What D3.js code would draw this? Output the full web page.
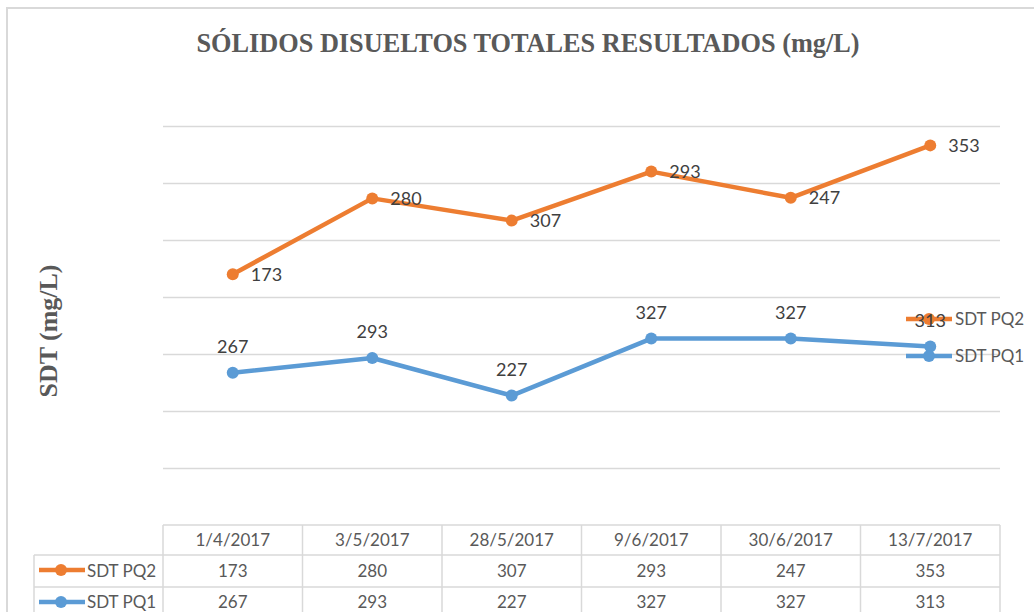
<!DOCTYPE html>
<html>
<head>
<meta charset="utf-8">
<script src="https://cdn.jsdelivr.net/npm/d3@7"></script>
<style>
  body { margin: 0; background: #fff; }
  svg { display: block; }
</style>
</head>
<body>
<div id="chart"></div>
<script>
// data
var fechas = ["1/4/2017", "3/5/2017", "28/5/2017", "9/6/2017", "30/6/2017", "13/7/2017"];
var sdtPQ1 = [267, 293, 227, 327, 327, 313];
var sdtPQ2 = [173, 280, 307, 293, 247, 353];
var yTicks = [0, 100, 200, 300, 400, 500, 600, 700];

var width = 1034, height = 612;
var orange = "#ED7D31", blue = "#5B9BD5", grid = "#d9d9d9";

var svg = d3.select("#chart").append("svg")
  .attr("width", width)
  .attr("height", height);

// chart frame
svg.append("path")
  .attr("d", "M7,612 V8 H1034")
  .attr("fill", "none")
  .attr("stroke", grid)
  .attr("stroke-width", 2);

// title
svg.append("text")
  .attr("x", 528).attr("y", 52)
  .attr("text-anchor", "middle")
  .attr("textLength", 663)
  .attr("lengthAdjust", "spacingAndGlyphs")
  .style("font-family", "'Liberation Serif', 'Times New Roman', serif")
  .style("font-weight", "bold")
  .style("font-size", "27px")
  .style("fill", "#595959")
  .text("SÓLIDOS DISUELTOS TOTALES RESULTADOS (mg/L)");

// y axis title
svg.append("text")
  .attr("transform", "translate(57,331) rotate(-90)")
  .attr("text-anchor", "middle")
  .attr("textLength", 133)
  .attr("lengthAdjust", "spacingAndGlyphs")
  .style("font-family", "'Liberation Serif', 'Times New Roman', serif")
  .style("font-weight", "bold")
  .style("font-size", "25px")
  .style("fill", "#595959")
  .text("SDT (mg/L)");

var x = d3.scaleBand().domain(fechas).range([163, 1000]);
var y = d3.scaleLinear().domain([0, 700]).range([525, 126]);

// gridlines (no tick labels, like the original)
svg.append("g")
  .attr("transform", "translate(163,0)")
  .call(d3.axisLeft(y).tickValues(yTicks.slice(1)).tickSize(-837).tickFormat(""))
  .call(function(g) {
    g.select(".domain").remove();
    g.selectAll(".tick line").attr("stroke", grid).attr("stroke-width", 1.5);
  });

// stacked lines: PQ1 at the bottom, PQ2 stacked on top
var rows = fechas.map(function(f, i) { return { fecha: f, PQ1: sdtPQ1[i], PQ2: sdtPQ2[i] }; });
var stack = d3.stack().keys(["PQ1", "PQ2"]);
var series = stack(rows);
var colors = { PQ1: blue, PQ2: orange };

var line = d3.line()
  .x(function(d) { return x(d.data.fecha) + x.bandwidth() / 2; })
  .y(function(d) { return y(d[1]); });

series.forEach(function(s) {
  var g = svg.append("g");
  g.append("path")
    .datum(s)
    .attr("d", line)
    .attr("fill", "none")
    .attr("stroke", colors[s.key])
    .attr("stroke-width", 4.5)
    .attr("stroke-linejoin", "round");
  g.selectAll("circle")
    .data(s)
    .enter().append("circle")
    .attr("cx", function(d) { return x(d.data.fecha) + x.bandwidth() / 2; })
    .attr("cy", function(d) { return y(d[1]); })
    .attr("r", 6)
    .attr("fill", colors[s.key]);
});

var labelFont = "Lato, 'Open Sans', sans-serif";

// legend (drawn before PQ1 labels so "313" overlaps as in the original)
var legendItems = [{ key: "PQ2", name: "SDT PQ2", y: 319 }, { key: "PQ1", name: "SDT PQ1", y: 356 }];
var legend = svg.selectAll(".legend")
  .data(legendItems)
  .enter().append("g")
  .attr("class", "legend")
  .attr("transform", function(d) { return "translate(906," + d.y + ")"; });
legend.append("line")
  .attr("x1", 0).attr("x2", 46)
  .attr("stroke", function(d) { return colors[d.key]; })
  .attr("stroke-width", 4.5);
legend.append("circle")
  .attr("cx", 23).attr("r", 6)
  .attr("fill", function(d) { return colors[d.key]; });
legend.append("text")
  .attr("x", 49).attr("dy", "0.35em")
  .style("font-family", labelFont)
  .style("font-size", "17px")
  .style("fill", "#595959")
  .text(function(d) { return d.name; });

// data labels
// PQ2 labels: right of the point
svg.append("g").selectAll("text")
  .data(series[1])
  .enter().append("text")
  .attr("x", function(d) { return x(d.data.fecha) + x.bandwidth() / 2 + 18; })
  .attr("y", function(d) { return y(d[1]); })
  .attr("dy", "0.36em")
  .style("font-family", labelFont)
  .style("font-size", "18px")
  .style("fill", "#404040")
  .text(function(d) { return d.data.PQ2; });

// PQ1 labels: above the point
svg.append("g").selectAll("text")
  .data(series[0])
  .enter().append("text")
  .attr("x", function(d) { return x(d.data.fecha) + x.bandwidth() / 2; })
  .attr("y", function(d) { return y(d[1]) - 20; })
  .attr("text-anchor", "middle")
  .style("font-family", labelFont)
  .style("font-size", "18px")
  .style("fill", "#404040")
  .text(function(d) { return d.data.PQ1; });

// data table
var rowTop = [525, 555, 587, 619];
var tbl = svg.append("g").attr("class", "table");
var cols = [163].concat(fechas.map(function(f) { return x(f) + x.bandwidth(); }));

// horizontal lines
tbl.append("line").attr("x1", 163).attr("x2", 1000).attr("y1", rowTop[0]).attr("y2", rowTop[0]);
[1, 2, 3].forEach(function(r) {
  tbl.append("line").attr("x1", 34).attr("x2", 1000).attr("y1", rowTop[r]).attr("y2", rowTop[r]);
});
// vertical lines
cols.forEach(function(cx) {
  tbl.append("line").attr("x1", cx).attr("x2", cx).attr("y1", rowTop[0]).attr("y2", rowTop[3]);
});
tbl.append("line").attr("x1", 34).attr("x2", 34).attr("y1", rowTop[1]).attr("y2", rowTop[3]);
tbl.selectAll("line").attr("stroke", grid).attr("stroke-width", 1.5);

// header
tbl.selectAll(".hdr")
  .data(fechas)
  .enter().append("text")
  .attr("class", "hdr")
  .attr("x", function(d) { return x(d) + x.bandwidth() / 2; })
  .attr("y", 546)
  .attr("text-anchor", "middle")
  .text(function(d) { return d; });

var tableRows = [
  { key: "PQ2", name: "SDT PQ2", values: sdtPQ2, top: rowTop[1], base: 577 },
  { key: "PQ1", name: "SDT PQ1", values: sdtPQ1, top: rowTop[2], base: 608 }
];
tableRows.forEach(function(r) {
  var cy = (r.top + (r.top + 31)) / 2 - 0.5;
  tbl.append("line")
    .attr("x1", 39).attr("x2", 85).attr("y1", cy).attr("y2", cy)
    .attr("stroke", colors[r.key]).attr("stroke-width", 4.5);
  tbl.append("circle").attr("cx", 61).attr("cy", cy).attr("r", 6).attr("fill", colors[r.key]);
  tbl.append("text").attr("x", 87).attr("y", r.base).text(r.name);
  tbl.selectAll(".v" + r.key)
    .data(r.values)
    .enter().append("text")
    .attr("x", function(d, i) { return x(fechas[i]) + x.bandwidth() / 2; })
    .attr("y", r.base)
    .attr("text-anchor", "middle")
    .text(function(d) { return d; });
});
tbl.selectAll("text")
  .style("font-family", labelFont)
  .style("font-size", "17px")
  .style("fill", "#595959");
</script>
</body>
</html>
